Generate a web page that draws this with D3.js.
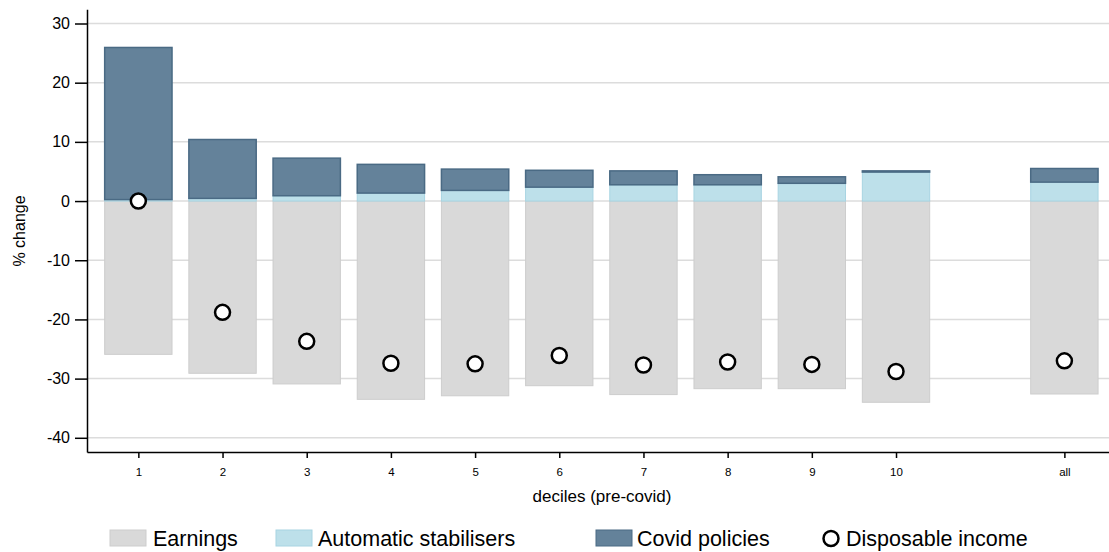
<!DOCTYPE html>
<html>
<head>
<meta charset="utf-8">
<script src="https://cdn.jsdelivr.net/npm/d3@7"></script>
<style>
  html, body { margin: 0; padding: 0; background: #fff; }
  svg { display: block; font-family: "Liberation Sans", Arial, sans-serif; }
</style>
</head>
<body>
<svg id="chart" width="1109" height="552"></svg>
<script>
// ---- data ----
const categories = ["1","2","3","4","5","6","7","8","9","10","all"];
const earnings   = [-25.9,-29.1,-30.9,-33.5,-32.9,-31.2,-32.7,-31.7,-31.7,-34.0,-32.6];
const autoStab   = [0.25,0.45,0.9,1.35,1.8,2.35,2.75,2.75,3.0,4.9,3.2];
const covid      = [25.7,9.95,6.35,4.85,3.6,2.85,2.35,1.7,1.1,0.2,2.3];
const dispIncome = [0.0,-18.8,-23.7,-27.4,-27.5,-26.1,-27.7,-27.2,-27.6,-28.8,-27.0];
const yTicks     = [-40,-30,-20,-10,0,10,20,30];
const legendLabels = ["Earnings","Automatic stabilisers","Covid policies","Disposable income"];

// ---- layout ----
const plotLeft = 87, plotRight = 1109, plotTop = 9.3, plotBottom = 452;
const svg = d3.select("#chart");

// position of each category on a numeric axis; "all" separated by a gap
const pos = categories.map((c, i) => i < 10 ? i + 1 : 12);

const x = d3.scaleLinear().domain([0.39, 12.53]).range([plotLeft, plotRight]);
const y = d3.scaleLinear().domain([-42.4, 32.4]).range([plotBottom, plotTop]);
const bw = x(1.4) - x(0.6);

const colEarn = "#d9d9d9", colEarnStroke = "#cdcdcd";
const colAuto = "#bde0ea", colAutoStroke = "#a8d4e2";
const colCovid = "#64829a", colCovidStroke = "#4a6a84";

// gridlines
svg.append("g").selectAll("line").data(yTicks).join("line")
  .attr("x1", plotLeft).attr("x2", plotRight)
  .attr("y1", d => y(d)).attr("y2", d => y(d))
  .attr("stroke", "#dcdcdc").attr("stroke-width", 1.5);

const rows = categories.map((c, i) => ({
  c, p: pos[i], e: earnings[i], a: autoStab[i], v: covid[i], d: dispIncome[i]
}));

// earnings bars (negative)
svg.append("g").selectAll("rect").data(rows).join("rect")
  .attr("x", d => x(d.p) - bw / 2).attr("width", bw)
  .attr("y", d => y(0)).attr("height", d => y(d.e) - y(0))
  .attr("fill", colEarn).attr("stroke", colEarnStroke).attr("stroke-width", 1);

// automatic stabilisers (positive, from 0)
svg.append("g").selectAll("rect").data(rows).join("rect")
  .attr("x", d => x(d.p) - bw / 2).attr("width", bw)
  .attr("y", d => y(d.a)).attr("height", d => y(0) - y(d.a))
  .attr("fill", colAuto).attr("stroke", colAutoStroke).attr("stroke-width", 1);

// covid policies stacked on automatic stabilisers
svg.append("g").selectAll("rect").data(rows).join("rect")
  .attr("x", d => x(d.p) - bw / 2).attr("width", bw)
  .attr("y", d => y(d.a + d.v)).attr("height", d => y(d.a) - y(d.a + d.v))
  .attr("fill", colCovid).attr("stroke", colCovidStroke).attr("stroke-width", 1.5);

// disposable income markers
svg.append("g").selectAll("circle").data(rows).join("circle")
  .attr("cx", d => x(d.p)).attr("cy", d => y(d.d)).attr("r", 7.5)
  .attr("fill", "#fff").attr("stroke", "#000").attr("stroke-width", 2.5);

// y axis
const yAxis = svg.append("g").attr("transform", `translate(${plotLeft},0)`)
  .call(d3.axisLeft(y).tickValues(yTicks).tickFormat(d => String(d))
    .tickSize(12).tickPadding(5).tickSizeOuter(0));
yAxis.select(".domain").attr("stroke", "#000").attr("stroke-width", 1.5);
yAxis.selectAll(".tick line").attr("stroke", "#000").attr("stroke-width", 1.5);
yAxis.selectAll(".tick text").attr("font-size", 16).attr("fill", "#000")
  .attr("font-family", "Liberation Sans, Arial, sans-serif");

// x axis
const xAxis = svg.append("g").attr("transform", `translate(0,${plotBottom})`)
  .call(d3.axisBottom(x).tickValues(pos).tickFormat((d, i) => categories[i])
    .tickSize(6).tickPadding(10).tickSizeOuter(0));
xAxis.select(".domain").attr("stroke", "#000").attr("stroke-width", 1.5);
xAxis.selectAll(".tick line").attr("stroke", "#000").attr("stroke-width", 1.5);
xAxis.selectAll(".tick text").attr("font-size", 11.5).attr("fill", "#000")
  .attr("font-family", "Liberation Sans, Arial, sans-serif");

// axis titles
svg.append("text").attr("transform", "translate(25,231) rotate(-90)")
  .attr("text-anchor", "middle").attr("font-size", 16).attr("fill", "#000")
  .text("% change");
svg.append("text").attr("x", 602).attr("y", 502)
  .attr("text-anchor", "middle").attr("font-size", 17).attr("fill", "#000")
  .text("deciles (pre-covid)");

// legend
const lg = svg.append("g");
const legendItems = [
  { sx: 110, tx: 153, fill: colEarn, stroke: colEarnStroke, type: "rect" },
  { sx: 276, tx: 318, fill: colAuto, stroke: colAutoStroke, type: "rect" },
  { sx: 596, tx: 637, fill: colCovid, stroke: colCovidStroke, type: "rect" },
  { sx: 822, tx: 846, fill: "#fff", stroke: "#000", type: "circle" }
];
legendItems.forEach((it, i) => {
  if (it.type === "rect") {
    lg.append("rect").attr("x", it.sx).attr("y", 530).attr("width", 36).attr("height", 16)
      .attr("fill", it.fill).attr("stroke", it.stroke).attr("stroke-width", 1);
  } else {
    lg.append("circle").attr("cx", 831).attr("cy", 538.5).attr("r", 7.5)
      .attr("fill", "#fff").attr("stroke", "#000").attr("stroke-width", 2.5);
  }
  lg.append("text").attr("x", it.tx).attr("y", 546).attr("font-size", 21.5)
    .attr("fill", "#000").text(legendLabels[i]);
});
</script>
</body>
</html>
